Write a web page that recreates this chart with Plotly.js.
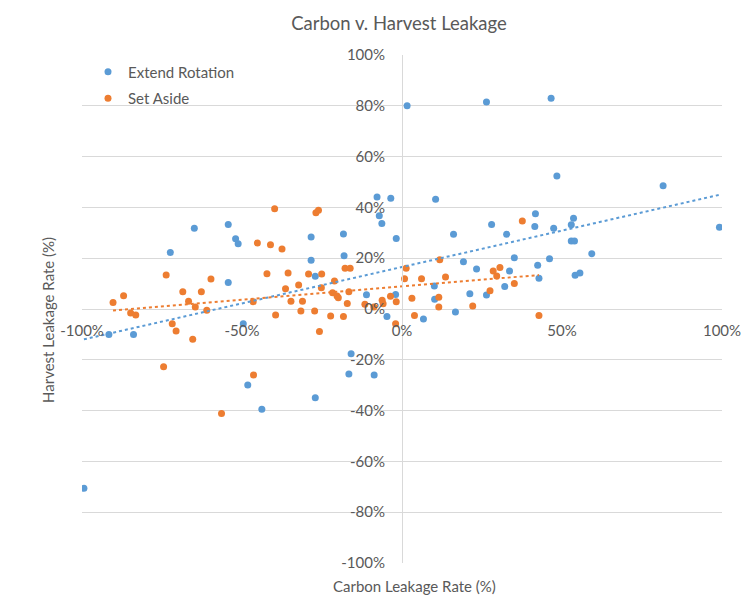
<!DOCTYPE html>
<html>
<head>
<meta charset="utf-8">
<script src="https://cdn.plot.ly/plotly-3.0.1.min.js"></script>
<style>html,body{margin:0;padding:0;background:#fff;}#chart{width:743px;height:596px;}</style>
</head>
<body>
<div id="chart"></div>
<script>
// ---- Data (percent) ----
const seriesNames = ["Extend Rotation", "Set Aside"];

const extendX = [1.6, 26.4, 46.6, 48.4, 81.6, 10.5, -1.8, 41.7, 53.6, 28, 41.5, 52.9, 47.4, 16.1, 32.7, 99.2,
  52.9, 53.9, 59.3, 19.2, 35.1, 46.1, 42.4, 23.3, 33.6, 54.1, 55.6, 42.8, 32.1, 10.1, 21.2, 26.4, 10.2, 16.7,
  6.7, -2, -7.8, -3.5, -7.1, -6.3, -54.3, -52, -51.2, -28.4, -18.3, -28.4, -18.1, -54.3, -27.1, -11.1, -4.7,
  -72.4, -64.9, -91.6, -83.9, -49.6, -48.2, -43.8, -27.1, -15.9, -16.6, -8.7, -99.4];
const extendY = [80, 81.5, 83, 52.4, 48.5, 43.2, 27.8, 37.5, 35.7, 33.3, 32.5, 33.2, 31.8, 29.4, 29.4, 32.2,
  26.8, 26.8, 21.8, 18.6, 20.2, 19.8, 17.2, 15.7, 15, 13.3, 14.2, 12.1, 8.9, 9.1, 6, 5.5, 3.8, -1.2,
  -3.9, 5.7, 44.1, 43.6, 36.7, 33.7, 33.3, 27.7, 25.7, 28.3, 29.5, 19.2, 21, 10.4, 12.9, 5.6, -3,
  22.2, 31.8, -10, -10, -5.8, -29.9, -39.5, -34.9, -17.6, -25.6, -26, -70.6];

const setAsideX = [-73.7, -90.3, -87, -84.8, -83.2, -68.5, -66.7, -64.6, -62.7, -59.7, -61, -39.8, -26.9, -26.1,
  -45.2, -41.1, -37.5, -42.2, -35.6, -29.2, -25.1, -17.8, -16.2, -36.4, -32.3, -25.2, -21.1, -21.7, -20.3, -19.9,
  -16.6, -46.5, -34.7, -31.1, -17.1, -31.6, -27.3, -39.5, -22.3, -18.3, -11.6, -8.8, -6.2, -5.9, -3.6, -1.8,
  1.3, 0.8, 37.6, 11.8, 6.1, 13.6, 28.5, 30.6, 29.6, 27.5, 35.1, 3.1, 11.5, 11.5, 22.1, 3.9, 42.8,
  -71.8, -70.6, -65.4, -74.5, -46.4, -56.4, -25.8, -2];
const setAsideY = [13.4, 2.6, 5.2, -1.6, -2.4, 6.8, 3.1, 0.8, 6.8, 11.8, -0.5, 39.5, 37.9, 38.9,
  26, 25.3, 23.6, 13.9, 14.2, 13.8, 13.8, 16, 16, 8, 9.4, 8.4, 11, 6.4, 5.1, 4.4,
  6.8, 2.9, 3.1, 3.1, 2.2, -0.8, -0.8, -2.4, -2.8, -3, 1.9, 0.8, 3.4, 2.1, 5, 2.9,
  16, 11.9, 34.6, 19.4, 11.9, 12.6, 15, 16.3, 13, 7.2, 10, 4.2, 4.6, 0.8, 1.2, -2.6, -2.6,
  -5.8, -8.7, -11.9, -22.7, -26, -41.1, -8.9, -5.8];

const yTicks = [-100, -80, -60, -40, -20, 0, 20, 40, 60, 80, 100];
const xTicks = [-100, -50, 0, 50, 100];

// ---- Linear trendlines (least squares) ----
function trend(xs, ys) {
  const n = xs.length;
  let sx = 0, sy = 0, sxx = 0, sxy = 0;
  for (let i = 0; i < n; i++) { sx += xs[i]; sy += ys[i]; sxx += xs[i]*xs[i]; sxy += xs[i]*ys[i]; }
  const b = (n*sxy - sx*sy) / (n*sxx - sx*sx);
  const a = (sy - b*sx) / n;
  const x0 = Math.min(...xs), x1 = Math.max(...xs);
  return {x: [x0, x1], y: [a + b*x0, a + b*x1]};
}

const blue = "#5B9BD5", orange = "#ED7D31", txt = "#595959";
const FONT = "Lato, 'Liberation Sans', sans-serif";

const tB = trend(extendX, extendY);
const tO = trend(setAsideX, setAsideY);

const traces = [
  {x: extendX, y: extendY, type: "scatter", mode: "markers", name: seriesNames[0], legendgroup: "a",
   marker: {color: blue, size: 7}},
  {x: setAsideX, y: setAsideY, type: "scatter", mode: "markers", name: seriesNames[1], legendgroup: "b",
   marker: {color: orange, size: 7}},
  {x: tB.x, y: tB.y, type: "scatter", mode: "lines", showlegend: false, hoverinfo: "skip",
   line: {color: blue, width: 2, dash: "dot"}},
  {x: tO.x, y: tO.y, type: "scatter", mode: "lines", showlegend: false, hoverinfo: "skip",
   line: {color: orange, width: 2, dash: "dot"}}
];

const PL = 82, PR = 722, PW = PR - PL;
const layout = {
  width: 743, height: 596,
  margin: {l: PL, r: 743 - PR, t: 55, b: 33},
  paper_bgcolor: "#fff", plot_bgcolor: "#fff",
  font: {family: FONT, color: txt, size: 15},
  title: {text: "Carbon v. Harvest Leakage", font: {family: FONT, size: 18.5, color: txt},
          xref: "container", x: 399/743, xanchor: "center", yref: "container", y: 1 - 24/596, yanchor: "middle"},
  xaxis: {range: [-100, 100], tickvals: xTicks, ticktext: xTicks.map(v => v + "%"),
          showgrid: false, zeroline: false, showline: false, ticks: "",
          anchor: "free", position: 0.5, ticklabelstandoff: 11, ticklabeloverflow: "allow",
          tickfont: {family: FONT, size: 15, color: txt}, fixedrange: true},
  yaxis: {range: [-100, 100], tickvals: yTicks, ticktext: yTicks.map(v => v + "%"),
          showgrid: true, gridcolor: "#d9d9d9", gridwidth: 1, zeroline: false,
          showline: true, linecolor: "#d9d9d9", linewidth: 1, ticks: "",
          anchor: "free", position: 0.5, ticklabelstandoff: 14, ticklabeloverflow: "allow",
          tickfont: {family: FONT, size: 15, color: txt}, fixedrange: true},
  showlegend: true,
  legend: {x: 6/PW, xanchor: "left", y: 0.999, yanchor: "top", traceorder: "grouped", tracegroupgap: 4,
           itemwidth: 30, bgcolor: "rgba(0,0,0,0)", font: {family: FONT, size: 15, color: txt}},
  annotations: [
    {text: "Carbon Leakage Rate (%)", xref: "paper", yref: "paper", x: (414-PL)/PW, y: (563-586)/508,
     xanchor: "center", yanchor: "middle", showarrow: false, font: {family: FONT, size: 15, color: txt}},
    {text: "Harvest Leakage Rate (%)", xref: "paper", yref: "paper", x: (48-PL)/PW, y: (563-320)/508,
     xanchor: "center", yanchor: "middle", textangle: -90, showarrow: false, font: {family: FONT, size: 15, color: txt}}
  ]
};

Plotly.newPlot("chart", traces, layout, {displayModeBar: false, staticPlot: true});
</script>
</body>
</html>
